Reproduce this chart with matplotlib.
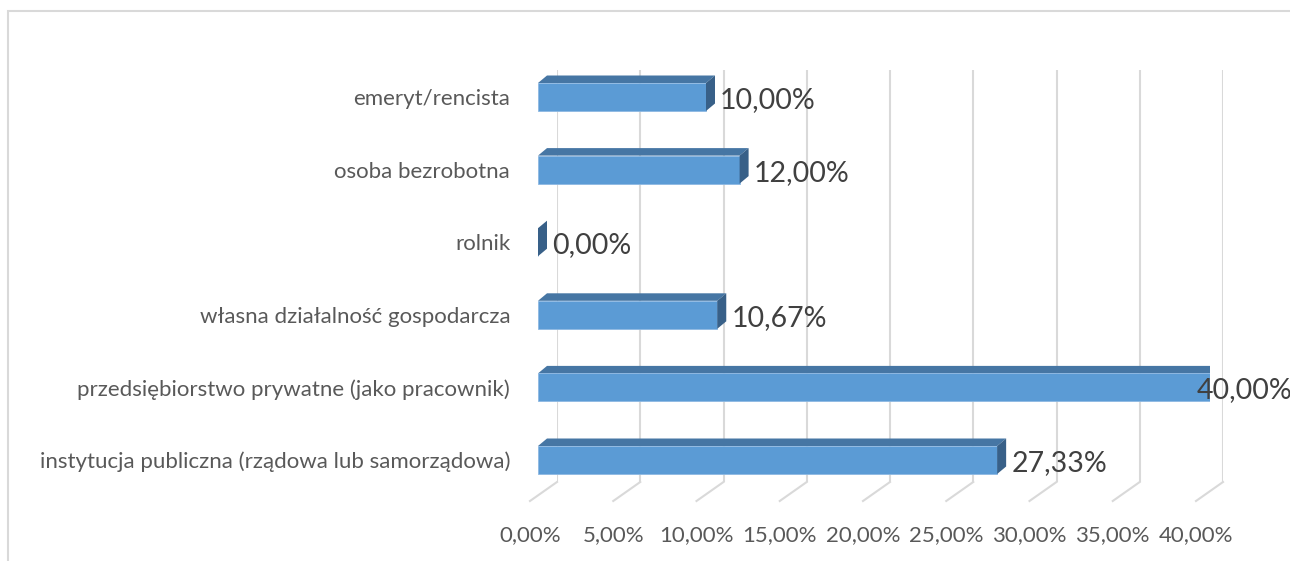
import matplotlib
matplotlib.use("Agg")
import matplotlib.pyplot as plt
from matplotlib.patches import Polygon, Rectangle
from matplotlib.transforms import ScaledTranslation

# ---- data ----
categories = [
    "instytucja publiczna (rządowa lub samorządowa)",
    "przedsiębiorstwo prywatne (jako pracownik)",
    "własna działalność gospodarcza",
    "rolnik",
    "osoba bezrobotna",
    "emeryt/rencista",
]
values = [27.33, 40.00, 10.67, 0.00, 12.00, 10.00]
ticks = [0, 5, 10, 15, 20, 25, 30, 35, 40]
tick_labels = ["0,00%", "5,00%", "10,00%", "15,00%", "20,00%",
               "25,00%", "30,00%", "35,00%", "40,00%"]
value_labels = ["27,33%", "40,00%", "10,67%", "0,00%", "12,00%", "10,00%"]

FONT = "Lato"
TXT = "#595959"
FRONT = "#5B9BD5"
TOP = "#4676A4"
SIDE = "#386088"
GRID = "#D9D9D9"

W, H, DPI = 1290, 561, 100
fig = plt.figure(figsize=(W / DPI, H / DPI), dpi=DPI)
fig.patch.set_facecolor("white")

def fpos(x0, y0_top, x1, y1_bottom):
    # pixel box (top-left origin) -> figure fraction [l, b, w, h]
    return [x0 / W, 1 - y1_bottom / H, (x1 - x0) / W, (y1_bottom - y0_top) / H]

# outer chart border
fig.add_artist(Rectangle((8 / W, -0.1), 1.2, 1.1 - 11 / H, transform=fig.transFigure,
                         fill=False, edgecolor=GRID, linewidth=1.5))

# ---- back wall axes (gridlines + floor) ----
axb = fig.add_axes(fpos(557, 70, 1223, 482))
axb.set_xlim(0, 40)
axb.set_ylim(0, 1)
axb.set_xticks(ticks)
axb.set_xticklabels(tick_labels, fontsize=16, color=TXT, family=FONT)
axb.tick_params(axis="x", length=0, pad=31)
axb.set_yticks([])
for s in axb.spines.values():
    s.set_visible(False)
axb.patch.set_alpha(0)
axb.grid(axis="x", color=GRID, linewidth=1.5)
fdx = -27 / (666 / 40)
fdy = -19 / 412
for t in ticks:
    axb.plot([t, t + fdx], [0, fdy], color=GRID, linewidth=1.5, clip_on=False)
shift = ScaledTranslation(-27 / DPI, 0, fig.dpi_scale_trans)
for lab in axb.get_xticklabels():
    lab.set_transform(lab.get_transform() + shift)

# ---- front bar axes ----
ax = fig.add_axes(fpos(538, 60.7, 1210, 496.3))
ax.set_xlim(0, 40)
ax.set_ylim(-0.5, len(categories) - 0.5)
ax.patch.set_alpha(0)
for s in ax.spines.values():
    s.set_visible(False)
ax.set_xticks([])
ax.set_yticks(range(len(categories)))
ax.set_yticklabels(categories, fontsize=16, color=TXT, family=FONT)
ax.tick_params(axis="y", length=0, pad=20)

px_x = 672 / 40.0
px_y = 435.6 / len(categories)
bh = 28 / px_y
ddx = 9 / px_x
ddy = 7.5 / px_y

ax.barh(range(len(categories)), values, height=bh, color=FRONT, zorder=3,
        edgecolor="#8DB8E2", linewidth=0.6)
for i, v in enumerate(values):
    top = i + bh / 2
    bot = i - bh / 2
    ax.add_patch(Polygon([(0, top), (v, top), (v + ddx, top + ddy), (ddx, top + ddy)],
                         closed=True, facecolor=TOP, edgecolor="none", zorder=2))
    ax.add_patch(Polygon([(v, bot), (v, top), (v + ddx, top + ddy), (v + ddx, bot + ddy)],
                         closed=True, facecolor=SIDE, edgecolor="none", zorder=4))
    xl = v + ddx + 5 / px_x
    ha = "left"
    if v >= max(values):
        xl = (1292 - 538) / px_x
        ha = "right"
    ax.text(xl, i - 3 / px_y, value_labels[i], fontsize=20.5, color="#404040", family=FONT,
            ha=ha, va="center", zorder=5, clip_on=False)

fig.savefig("out.png", dpi=DPI)
